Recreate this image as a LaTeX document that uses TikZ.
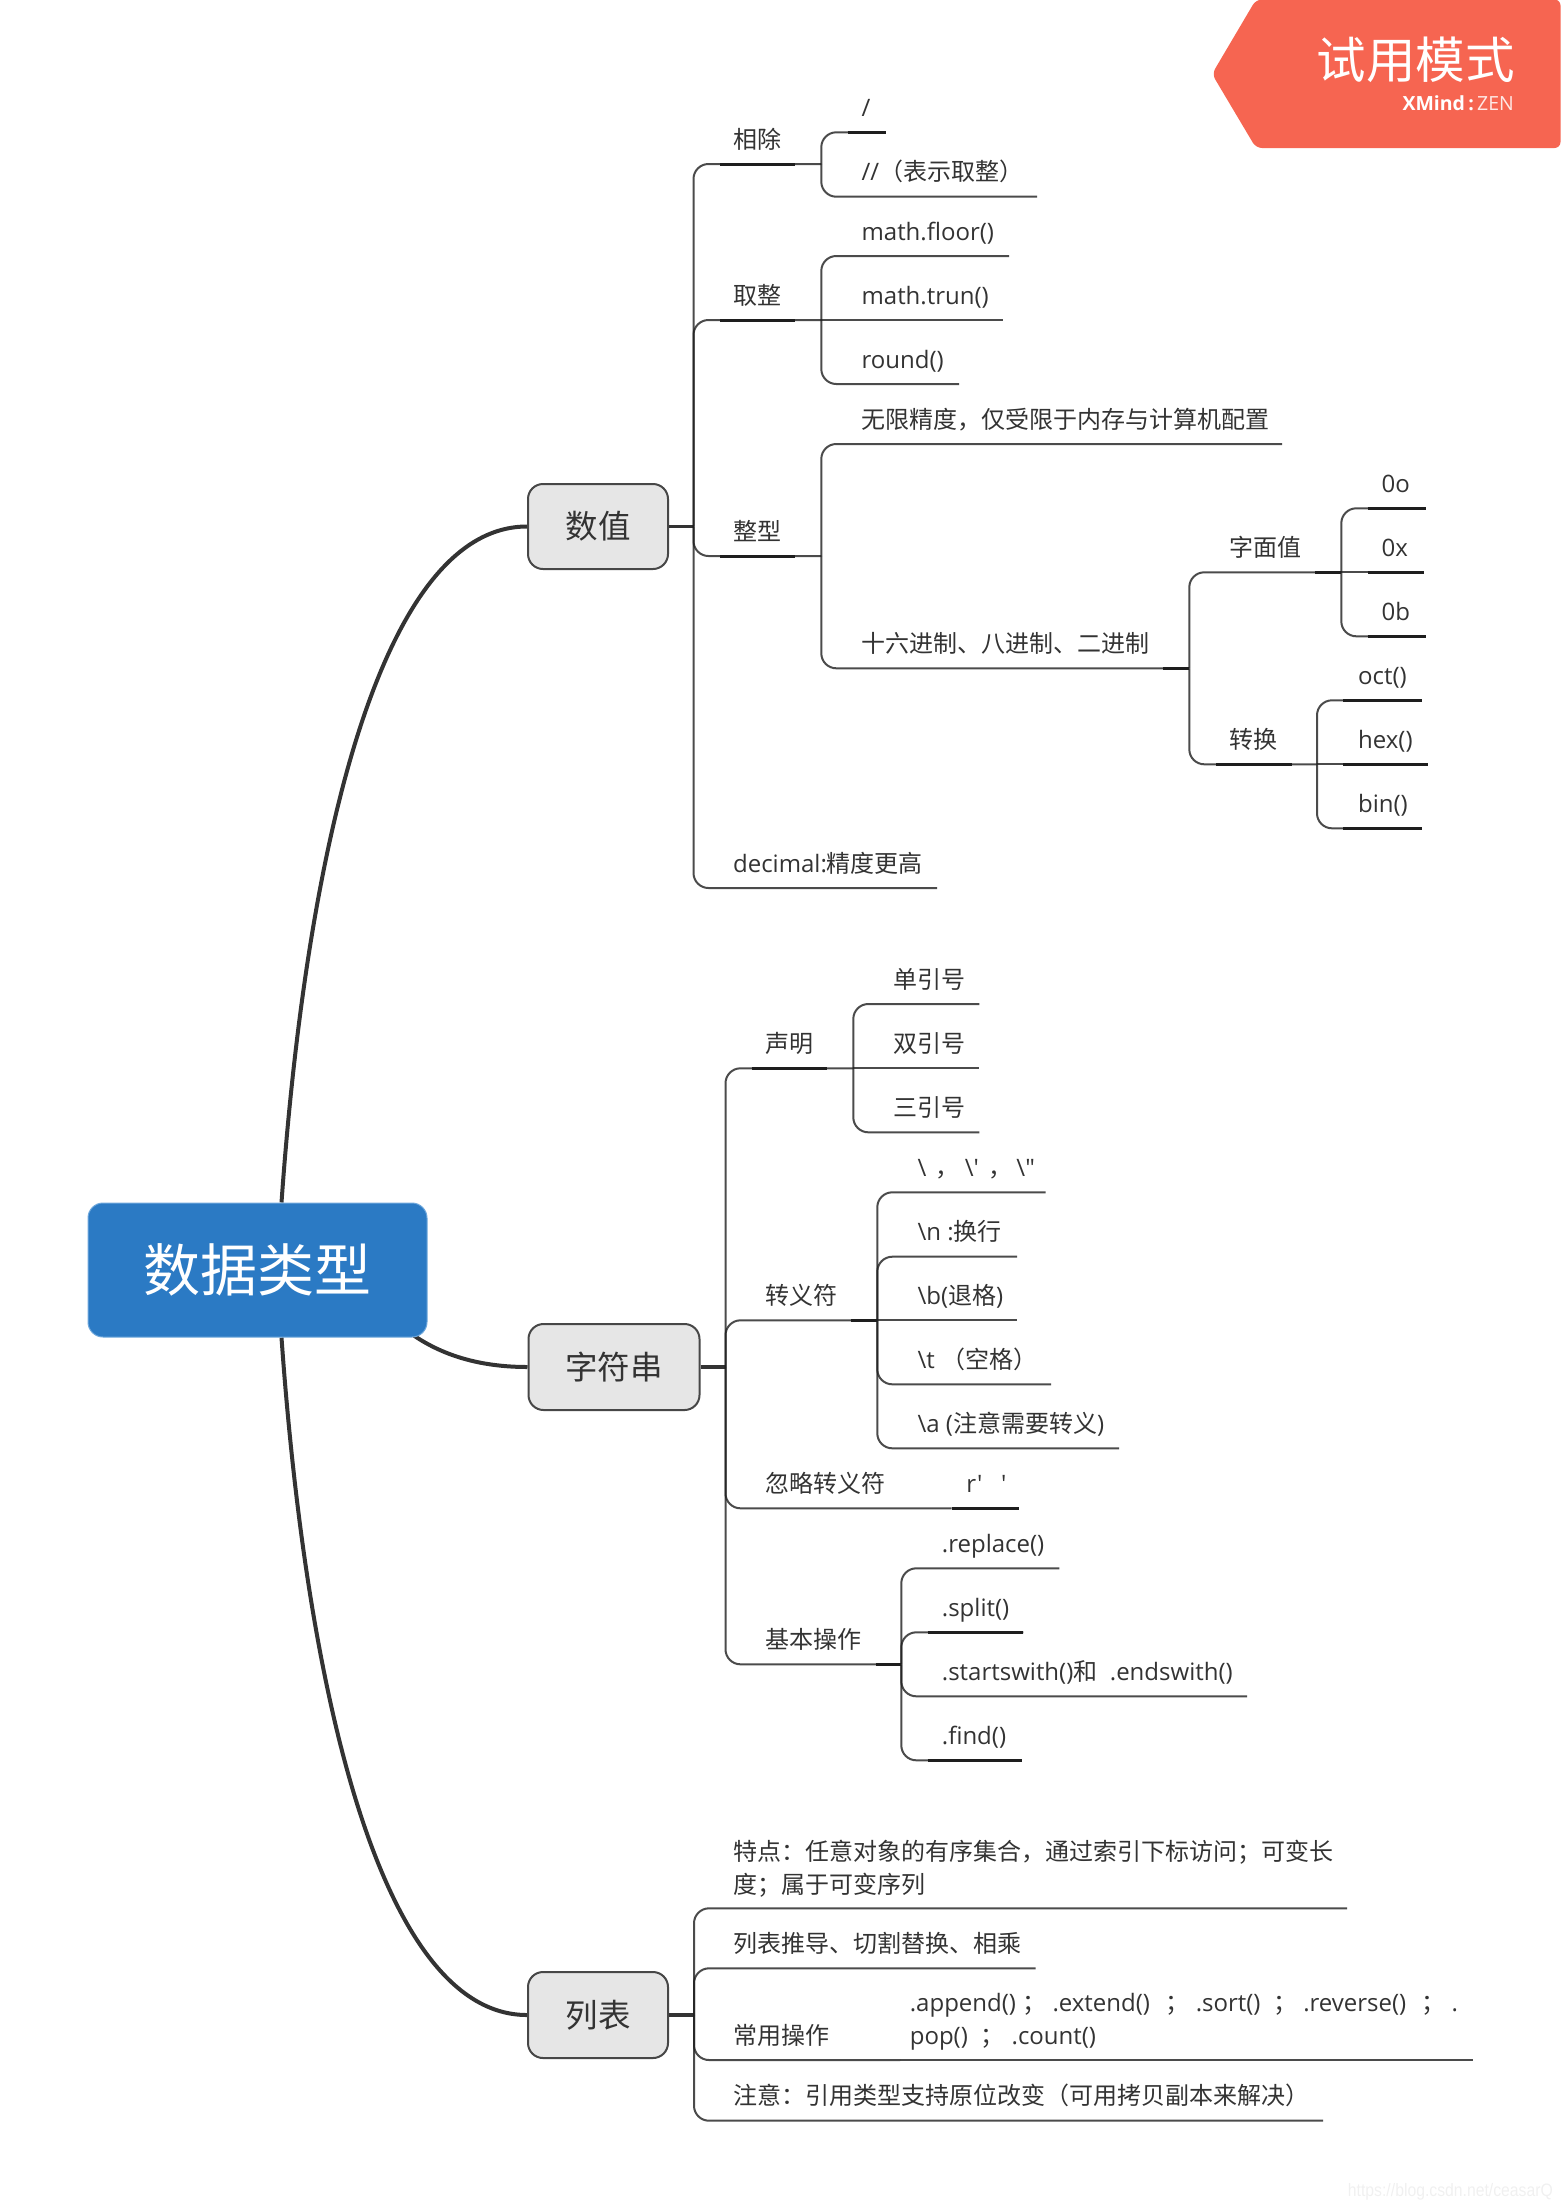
\documentclass[tikz,border=0pt]{standalone}
\usepackage{fontspec}
\newfontfamily\ops{Open Sans}
\newfontfamily\cjk{Noto Sans CJK SC}
\newfontfamily\wmk{Liberation Sans}
\newcommand{\zh}[1]{{\cjk #1}}
\definecolor{ink}{HTML}{333333}
\definecolor{lineink}{HTML}{1E1E1E}
\definecolor{rootblue}{HTML}{2B7AC4}
\definecolor{rootedge}{HTML}{6FA8DC}
\definecolor{boxgrey}{HTML}{E6E6E6}
\definecolor{badgered}{HTML}{F66551}
\pgfdeclarelayer{bg}
\pgfsetlayers{bg,main}
\tikzset{
  lbl/.style={anchor=base west,inner sep=0pt,text=ink,font=\ops\fontsize{24}{33}\selectfont},
  conn/.style={draw=lineink,draw opacity=.8,line width=2pt,rounded corners=15pt},
  straightconn/.style={draw=lineink,draw opacity=.8,line width=2pt},
  thickseg/.style={draw=lineink,line width=3pt},
  stem/.style={draw=ink,line width=3.5pt},
  maincurve/.style={draw=ink,line width=4pt},
  topicbox/.style={draw=ink!90,fill=boxgrey,line width=2pt,rounded corners=15pt,inner sep=0pt,
    text=ink,font=\cjk\fontsize{32.5}{38}\selectfont},
  rootbox/.style={draw=rootedge,fill=rootblue,line width=1pt,rounded corners=15pt,inner sep=0pt,
    text=white,font=\cjk\fontsize{57}{64}\selectfont,minimum width=339pt,minimum height=134pt},
}
% name, junction, text x, line y, line end x, text
\newcommand{\bra}[6]{%
  \coordinate (#1-e) at (#5,#4);
  \node[lbl] (#1) at ([xshift=-.6pt,yshift=15.8pt]#3,#4) {#6};
  \draw[conn] (#2) |- (#1-e);
}
% the same for a child in line with its junction
\newcommand{\brs}[6]{%
  \coordinate (#1-e) at (#5,#4);
  \node[lbl] (#1) at ([xshift=-.6pt,yshift=15.8pt]#3,#4) {#6};
  \draw[straightconn] (#2) -- (#1-e);
}
% name, distance from end of the line: start, stop
\newcommand{\thk}[3]{\draw[thickseg] ([xshift=-#2pt]#1-e) -- ([xshift=-#3pt]#1-e);}
\begin{document}
\begin{tikzpicture}[x=1pt,y=-1pt]
\useasboundingbox (0,0) rectangle (1561,2209);

% badge
\fill[badgered,rounded corners=6pt] (1212,74) -- (1256,-0.5) -- (1560.5,-0.5) -- (1560.5,148) -- (1256,148) -- cycle;
\node[anchor=base east,inner sep=0pt,text=white,font=\cjk\fontsize{49.5}{56}\selectfont] (trial) at (1515,78.5) {试用模式};
\node[anchor=base east,inner sep=0pt,text=white,font=\ops\fontsize{19.5}{22}\selectfont] (brand) at (1514,110) {{\bfseries XMind\,:}\,{\color{white!85!badgered}ZEN}};

% main topics
\node[rootbox] (root) at (257.5,1270) {数据类型};
\node[topicbox,minimum width=140pt,minimum height=85pt] (num) at (598,526.5) {数值};
\node[topicbox,minimum width=171pt,minimum height=86pt] (str) at (614,1367) {字符串};
\node[topicbox,minimum width=140pt,minimum height=86pt] (lst) at (598,2015) {列表};

\begin{pgfonlayer}{bg}
  \draw[maincurve] ([xshift=24pt]root.north) .. controls (308,830) and (385,526.5) .. (num.west);
  \draw[maincurve] ([xshift=24pt]root.south) .. controls (308,1710) and (385,2015) .. (lst.west);
  \draw[maincurve] ([xshift=-27pt,yshift=12pt]root.south east) .. controls (430,1350) and (470,1367) .. (str.west);
\end{pgfonlayer}

% ---------- 数值
\coordinate (jN) at (693.5,526.5);
\draw[stem] (num.east) -- (jN);
\bra{div}{jN}{733.5}{164}{821.3}{\zh{相除}}
\bra{rnd}{jN}{733.5}{320}{821.3}{\zh{取整}}
\bra{int}{jN}{733.5}{556}{821.3}{\zh{整型}}
\bra{dec}{jN}{733.5}{888}{937}{decimal:\zh{精度更高}}
\thk{div}{101.3}{26.3}
\thk{rnd}{101.3}{26.3}
\thk{int}{101.3}{26.3}

\coordinate (jDiv) at (821.3,164);
\bra{slash}{jDiv}{862}{132.3}{885.7}{/}
\bra{dslash}{jDiv}{862}{196.7}{1037}{//\zh{（表示取整）}}
\thk{slash}{38}{0}

\coordinate (jRnd) at (821.3,320);
\bra{floor}{jRnd}{862}{256}{1009}{math.floor()}
\brs{trun}{jRnd}{862}{320}{1003}{math.trun()}
\bra{round}{jRnd}{862}{384}{959}{round()}

\coordinate (jInt) at (821.3,556);
\bra{inf}{jInt}{862}{444}{1282}{\zh{无限精度，仅受限于内存与计算机配置}}
\bra{hexa}{jInt}{862}{668.3}{1189.3}{\zh{十六进制、八进制、二进制}}
\thk{hexa}{26.6}{0}

\coordinate (jHex) at (1189.3,668.3);
\bra{lit}{jHex}{1230}{572.3}{1341.3}{\zh{字面值}}
\bra{conv}{jHex}{1230}{764.3}{1317}{\zh{转换}}
\thk{lit}{26.3}{0}
\thk{conv}{101}{25.3}

\coordinate (jLit) at (1341.3,572.3);
\bra{oo}{jLit}{1382}{508.3}{1425.7}{0o}
\brs{ox}{jLit}{1382}{572.3}{1423.7}{0x}
\bra{ob}{jLit}{1382}{636.3}{1425.7}{0b}
\thk{oo}{58}{0}
\thk{ox}{56}{0}
\thk{ob}{58}{0}

\coordinate (jConv) at (1317,764.3);
\bra{oct}{jConv}{1358.5}{700.3}{1421.7}{oct()}
\brs{hexf}{jConv}{1358.5}{764.3}{1427.7}{hex()}
\bra{bin}{jConv}{1358.5}{828.3}{1421.7}{bin()}
\thk{oct}{78.7}{0}
\thk{hexf}{84.7}{0}
\thk{bin}{78.7}{0}

% ---------- 字符串
\coordinate (jS) at (725.5,1367);
\draw[stem] (str.east) -- (jS);
\bra{decl}{jS}{766}{1068.3}{853.3}{\zh{声明}}
\bra{esc}{jS}{766}{1320.3}{877.3}{\zh{转义符}}
\bra{raw}{jS}{766}{1508.3}{951.7}{\zh{忽略转义符}}
\bra{base}{jS}{766}{1664.3}{901.3}{\zh{基本操作}}
\thk{decl}{101.6}{26.6}
\thk{esc}{26.6}{0}
\thk{base}{25.6}{0}

\coordinate (jDecl) at (853.3,1068.3);
\bra{sq}{jDecl}{894}{1004}{979.3}{\zh{单引号}}
\brs{dq}{jDecl}{894}{1068.3}{979.3}{\zh{双引号}}
\bra{tq}{jDecl}{894}{1132.3}{979.3}{\zh{三引号}}

\coordinate (jEsc) at (877.3,1320.3);
\bra{bs}{jEsc}{918}{1192.3}{1045.7}{\textbackslash{} \hspace{3pt}\zh{，}\hspace{-1pt} \textbackslash' \hspace{3pt}\zh{，}\hspace{-2pt} \textbackslash"}
\bra{nl}{jEsc}{918}{1256.7}{1017}{\textbackslash n :\zh{换行}}
\brs{bk}{jEsc}{918}{1320.3}{1017}{\textbackslash b(\zh{退格})}
\bra{tb}{jEsc}{918}{1384.3}{1051}{\textbackslash t \zh{（空格）}}
\bra{al}{jEsc}{918}{1448.3}{1119}{\textbackslash a (\zh{注意需要转义})}

\coordinate (jRaw) at (951.7,1508.3);
\brs{rq}{jRaw}{966.7}{1508.3}{1019.3}{r'~~~'}
\thk{rq}{67.6}{0}

\coordinate (jBase) at (901.3,1664.3);
\bra{repl}{jBase}{942.3}{1568.3}{1059.3}{.replace()}
\bra{split}{jBase}{942.3}{1632.3}{1023.3}{.split()}
\bra{sw}{jBase}{942.3}{1696.3}{1247}{.startswith()\zh{和}~~.endswith()}
\bra{find}{jBase}{942.3}{1760.3}{1021.7}{.find()}
\thk{split}{95.6}{0}
\thk{find}{94}{0}

% ---------- 列表
\coordinate (jL) at (694,2015);
\draw[stem] (lst.east) -- (jL);
\coordinate (feat-e) at (1347,1908.3);
\node[lbl,align=left] (feat) at (733.4,1893) {\zh{特点：任意对象的有序集合，通过索引下标访问；可变长}\\\zh{度；属于可变序列}};
\draw[conn] (jL) |- (feat-e);
\bra{comp}{jL}{734}{1968.3}{1035.6}{\zh{列表推导、切割替换、相乘}}
\bra{ops}{jL}{734}{2060}{900}{\zh{常用操作}}
\bra{note}{jL}{734}{2120.7}{1323}{\zh{注意：引用类型支持原位改变（可用拷贝副本来解决）}}

\coordinate (opsl-e) at (1473,2060);
\node[lbl,align=left] (opsl) at (909.6,2044.5) {.append() \zh{；}~.extend()~~\hspace{3pt}\zh{；}~.sort()~~\zh{；}~.reverse()~~\hspace{2.5pt}\zh{；}~.\\pop()~~\zh{；}~\hspace{1pt}.count()};
\draw[straightconn] (ops-e) -- (opsl-e);

% watermark
\node[anchor=base east,inner sep=0pt,text=black!6,xscale=.875,transform shape,font=\wmk\fontsize{18}{22}\selectfont] (wm) at (1553,2196) {https://blog.csdn.net/ceasarQ};
\end{tikzpicture}
\end{document}
